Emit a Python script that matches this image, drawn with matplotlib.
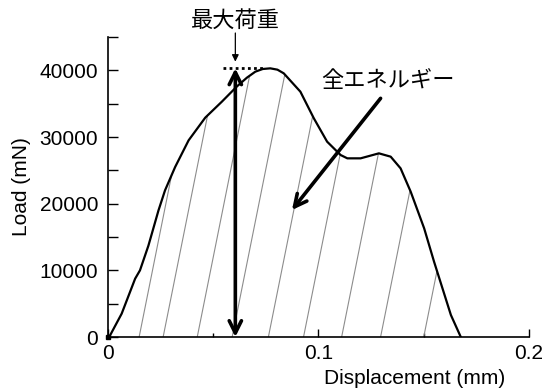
import matplotlib
matplotlib.use("Agg")
import matplotlib.pyplot as plt
import numpy as np
from matplotlib.patches import Polygon

# load-displacement curve
disp = [0.0, 0.0010, 0.0065, 0.0129, 0.0152, 0.0192, 0.0240, 0.0271, 0.0319,
        0.0383, 0.0462, 0.0541, 0.0613, 0.0660, 0.0700, 0.0735, 0.0771,
        0.0805, 0.0835, 0.0914, 0.0978, 0.1041, 0.1105, 0.1137, 0.1200,
        0.1287, 0.1343, 0.1390, 0.1438, 0.1502, 0.1549, 0.1589, 0.1629, 0.1676]
load = [0, 250, 3500, 8750, 10000, 13700, 19000, 22000, 25500,
        29500, 32900, 35300, 37600, 38900, 39800, 40200, 40300,
        40100, 39550, 36800, 32800, 29300, 27300, 26800, 26800,
        27550, 27050, 25300, 21800, 16300, 11300, 7300, 3300, 0]

# hatch lines: where they leave the x axis, and how far they lean per unit load
hatch_x = [0.0148, 0.0262, 0.0424, 0.0590, 0.0762, 0.0929, 0.1110, 0.1295, 0.1500]
hatch_lean = 0.2 / (2100 * 150)

max_x = 0.0605
max_load = 40300

plt.rcParams['font.family'] = ['Liberation Sans', 'DejaVu Sans']
jp = ['Noto Sans CJK JP', 'DejaVu Sans']

fig = plt.figure(figsize=(5.44, 3.92), dpi=100)
ax = fig.add_axes([0.1985, 0.1403, 0.7739, 0.7653])

# hatched area under the curve
area = Polygon(np.column_stack([disp, load]), closed=True, facecolor='none',
               edgecolor='none', transform=ax.transData)
ax.add_patch(area)
for hx in hatch_x:
    ln, = ax.plot([hx, hx + hatch_lean * 45000], [0, 45000], color='#8c8c8c', lw=0.8)
    ln.set_clip_path(area)

ax.plot(disp, load, color='black', lw=1.6, solid_joinstyle='round')
ax.plot([0], [0], marker='s', ms=3.5, color='black', clip_on=False)

# max load marker
ax.annotate('', xy=(max_x, max_load), xytext=(max_x, 0),
            arrowprops=dict(arrowstyle='<->', lw=2.6, color='black',
                            mutation_scale=22, shrinkA=0, shrinkB=0))
ax.plot([0.0548, 0.0748], [max_load, max_load], color='black', lw=2, ls=(0, (1, 1.2)))
ax.annotate('', xy=(max_x, 41300), xytext=(max_x, 45600), annotation_clip=False,
            arrowprops=dict(arrowstyle='-|>', lw=0.9, color='black',
                            mutation_scale=10, shrinkA=0, shrinkB=0))
ax.text(max_x, 47550, '最大荷重', ha='center', va='center', fontsize=16, family=jp)

# total energy label
ax.text(0.1331, 38550, '全エネルギー', ha='center', va='center', fontsize=16, family=jp)
ax.annotate('', xy=(0.0874, 19050), xytext=(0.1295, 35800),
            arrowprops=dict(arrowstyle='->', lw=2.6, color='black',
                            mutation_scale=22, shrinkA=0, shrinkB=0))

ax.set_xlim(0, 0.2)
ax.set_ylim(0, 45000)
ax.set_xticks([0, 0.1, 0.2])
ax.set_xticklabels(['0', '0.1', '0.2'])
ax.set_xticks([0.05, 0.15], minor=True)
ax.set_yticks([0, 10000, 20000, 30000, 40000])
ax.set_yticks([5000, 15000, 25000, 35000, 45000], minor=True)

for s in ['top', 'right']:
    ax.spines[s].set_visible(False)
for s in ['left', 'bottom']:
    ax.spines[s].set_linewidth(1.2)

ax.tick_params(axis='both', which='both', direction='in', width=1, labelsize=15)
ax.tick_params(axis='x', which='major', length=6, pad=5)
ax.tick_params(axis='x', which='minor', length=3)
ax.tick_params(axis='y', which='both', length=7, pad=7)

ax.set_xlabel('Displacement (mm)', fontsize=15)
ax.xaxis.set_label_coords(0.729, -0.105)
ax.set_ylabel('Load (mN)', fontsize=15)
ax.yaxis.set_label_coords(-0.184, 0.5)

fig.savefig('out.png', dpi=100)
